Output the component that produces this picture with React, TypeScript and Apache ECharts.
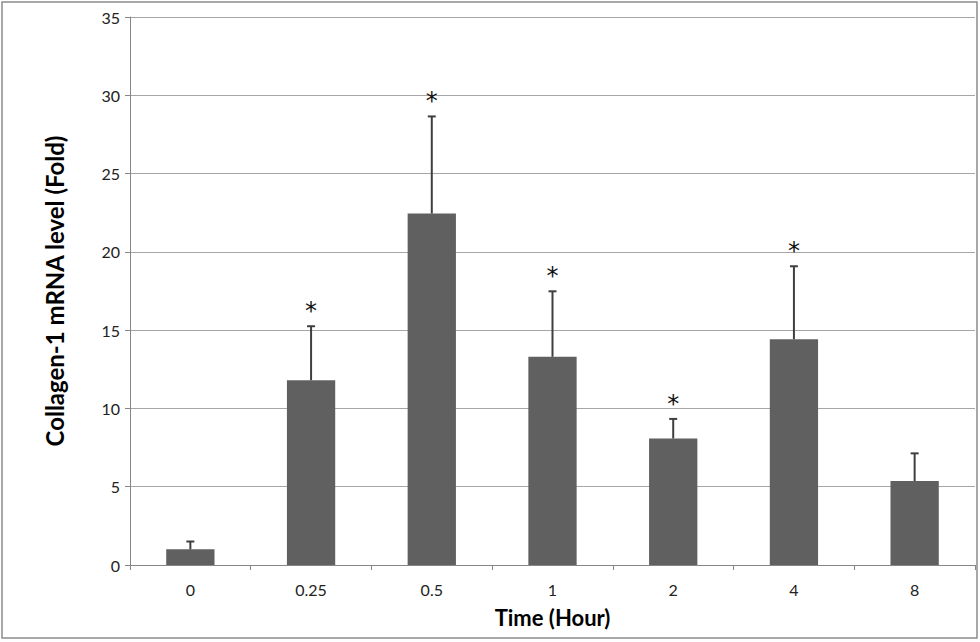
import React, { useEffect, useRef } from "react";
import * as echarts from "echarts";

const categories = ["0", "0.25", "0.5", "1", "2", "4", "8"];
const meanValues = [1.0, 11.8, 22.45, 13.3, 8.08, 14.42, 5.36];
const errorTops = [1.5, 15.25, 28.65, 17.48, 9.33, 19.08, 7.13];
const significant = [false, true, true, true, true, true, false];
const yTicks = { min: 0, max: 35, interval: 5 };

const FONT = "Lato, 'Open Sans', sans-serif";

export default function App() {
  const ref = useRef<HTMLDivElement>(null);
  useEffect(() => {
    document.body.style.margin = "0";
    const chart = echarts.init(ref.current!, null, { renderer: "svg" });
    const errData = categories.map((_, i) => [i, meanValues[i], errorTops[i], significant[i] ? 1 : 0]);
    chart.setOption({
      animation: false,
      backgroundColor: "#ffffff",
      graphic: [
        {
          type: "rect",
          shape: { x: 2, y: 2, width: 975, height: 636 },
          style: { fill: "none", stroke: "#8c8c8c", lineWidth: 1.5 },
          silent: true,
          z: -1,
        },
      ],
      grid: { left: 130, right: 5, top: 17, bottom: 77, containLabel: false },
      xAxis: {
        type: "category",
        data: categories,
        name: "Time (Hour)",
        nameLocation: "middle",
        nameGap: 41,
        nameTextStyle: { fontFamily: FONT, fontWeight: "bold", fontSize: 22, color: "#000" },
        axisLine: { lineStyle: { color: "#868686", width: 1 } },
        axisTick: { show: true, length: 5, lineStyle: { color: "#868686" } },
        axisLabel: { fontFamily: FONT, fontSize: 16, color: "#222", margin: 16 },
        splitLine: { show: false },
      },
      yAxis: {
        type: "value",
        min: yTicks.min,
        max: yTicks.max,
        interval: yTicks.interval,
        name: "Collagen-1 mRNA level (Fold)",
        nameLocation: "middle",
        nameGap: 64,
        nameRotate: 90,
        nameTextStyle: { fontFamily: FONT, fontWeight: "bold", fontSize: 24, color: "#000" },
        axisLine: { show: true, lineStyle: { color: "#868686", width: 1 } },
        axisTick: { show: true, length: 5, lineStyle: { color: "#868686" } },
        axisLabel: { fontFamily: FONT, fontSize: 16, color: "#222", margin: 10 },
        splitLine: { show: true, lineStyle: { color: "#a6a6a6", width: 1 } },
      },
      series: [
        {
          type: "bar",
          data: meanValues,
          barWidth: "40%",
          itemStyle: { color: "#606060" },
          z: 2,
        },
        {
          type: "custom",
          data: errData,
          z: 3,
          renderItem: (params: any, api: any) => {
            const x = api.value(0);
            const base = api.coord([x, api.value(1)]);
            const top = api.coord([x, api.value(2)]);
            const cap = 4;
            const children: any[] = [
              {
                type: "line",
                shape: { x1: base[0], y1: base[1], x2: top[0], y2: top[1] },
                style: { stroke: "#3f3f3f", lineWidth: 2 },
              },
              {
                type: "line",
                shape: { x1: top[0] - cap, y1: top[1], x2: top[0] + cap, y2: top[1] },
                style: { stroke: "#3f3f3f", lineWidth: 2 },
              },
            ];
            if (api.value(3) === 1) {
              children.push({
                type: "text",
                style: {
                  text: "*",
                  x: top[0],
                  y: top[1] - 3,
                  align: "center",
                  verticalAlign: "bottom",
                  fontFamily: "'DejaVu Sans', sans-serif",
                  fontSize: 24,
                  fill: "#111",
                },
              });
            }
            return { type: "group", children };
          },
        },
      ],
    });
    return () => chart.dispose();
  }, []);
  return <div ref={ref} style={{ width: 980, height: 642 }} />;
}
